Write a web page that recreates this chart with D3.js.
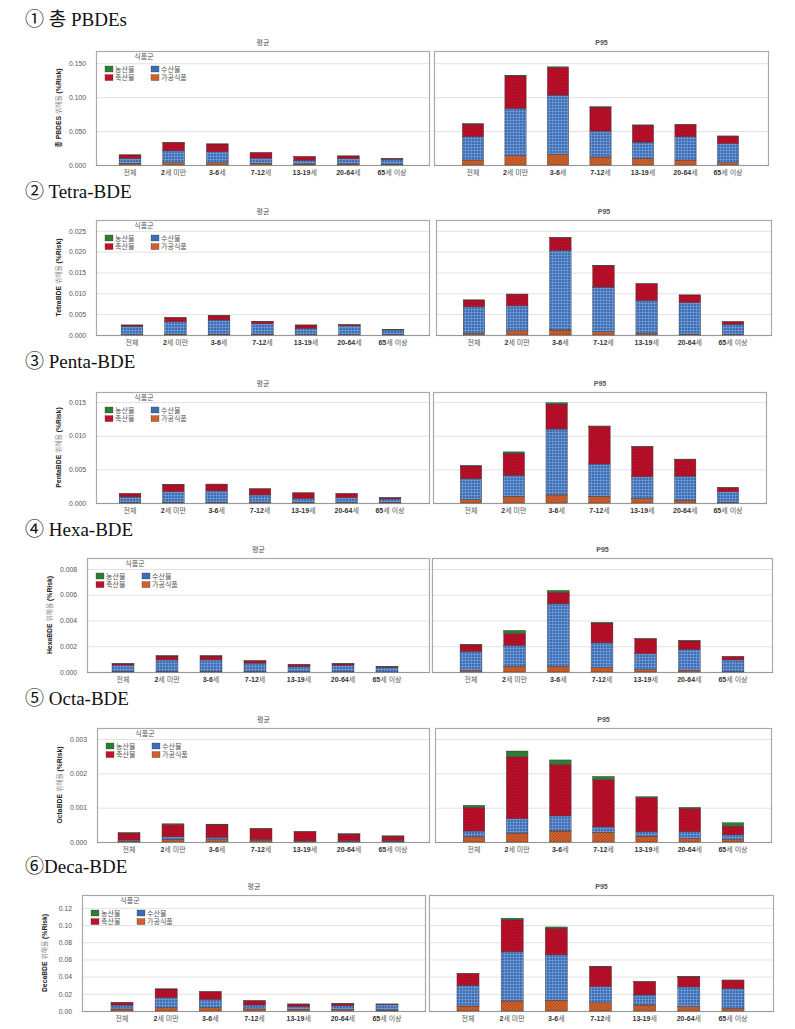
<!DOCTYPE html>
<html><head><meta charset="utf-8">
<script src="https://cdn.jsdelivr.net/npm/d3@7"></script>
<style>
body{margin:0;background:#fff}
svg{display:block}
.title{font-family:"Liberation Serif","DejaVu Serif","Noto Sans CJK KR",serif;font-size:19px;fill:#111}
.tick text{font-family:"Liberation Sans","DejaVu Sans","Noto Sans CJK KR",sans-serif;font-size:6.8px;fill:#555}
.small{font-family:"Liberation Sans","DejaVu Sans","Noto Sans CJK KR",sans-serif;font-size:7px;fill:#555}
.leg{font-family:"DejaVu Sans","Noto Sans CJK KR",sans-serif;font-size:7px;fill:#555}
</style>
</head><body><svg id="c" width="795" height="1029"></svg>
<script>
const ageGroups = ["전체","2세 미만","3-6세","7-12세","13-19세","20-64세","65세 이상"];
const foodGroups = ["농산물","수산물","축산물","가공식품"];
const stackOrder = ["가공식품","수산물","축산물","농산물"];
const panelNames = ["평균","P95"];

// matrices: rows follow foodGroups order, columns follow ageGroups order
const totalMean = [
  [0.0002,0.0003,0.0003,0.0002,0.0001,0.0001,0.0001],
  [0.0074,0.0176,0.0162,0.0078,0.0054,0.0078,0.0073],
  [0.0049,0.0123,0.0113,0.0078,0.0054,0.0040,0.0015],
  [0.0025,0.0034,0.0034,0.0025,0.0015,0.0015,0.0010]
];
const totalP95 = [
  [0.0005,0.0010,0.0010,0.0005,0.0003,0.0003,0.0002],
  [0.0343,0.0696,0.0873,0.0382,0.0240,0.0343,0.0284],
  [0.0186,0.0480,0.0407,0.0353,0.0250,0.0181,0.0108],
  [0.0074,0.0137,0.0157,0.0118,0.0098,0.0074,0.0034]
];
const tetraMean = [
  [0.00001,0.00001,0.00001,0.00001,0.00001,0.00001,0.00001],
  [0.0020,0.0030,0.0034,0.0025,0.0015,0.0021,0.0011],
  [0.0003,0.0010,0.0010,0.0006,0.0008,0.0003,0.0001],
  [0.0001,0.0002,0.0002,0.0002,0.0001,0.0001,0.0001]
];
const tetraP95 = [
  [0.00003,0.00003,0.00005,0.00003,0.00002,0.00002,0.00001],
  [0.0064,0.0060,0.0191,0.0107,0.0079,0.0076,0.0025],
  [0.0016,0.0028,0.0030,0.0051,0.0040,0.0018,0.0006],
  [0.0004,0.0010,0.0012,0.0008,0.0004,0.0002,0.0001]
];
const pentaMean = [
  [0.00001,0.00001,0.00001,0.00001,0.00001,0.00001,0.00001],
  [0.0008,0.0016,0.0017,0.0011,0.0006,0.0007,0.0005],
  [0.0005,0.0010,0.0010,0.0009,0.0008,0.0006,0.0002],
  [0.0001,0.0001,0.0001,0.0001,0.0001,0.0001,0.0001]
];
const pentaP95 = [
  [0.00005,0.0002,0.0002,0.00005,0.00003,0.00003,0.00002],
  [0.0031,0.0031,0.0098,0.0048,0.0032,0.0036,0.0016],
  [0.0019,0.0033,0.0037,0.0056,0.0045,0.0025,0.0006],
  [0.0005,0.0010,0.0012,0.0010,0.0007,0.0004,0.0001]
];
const hexaMean = [
  [0.00001,0.00002,0.00002,0.00001,0.00001,0.00001,0.00001],
  [0.00050,0.00090,0.00090,0.00065,0.00038,0.00050,0.00036],
  [0.00012,0.00030,0.00030,0.00018,0.00018,0.00010,0.00003],
  [0.00004,0.00004,0.00004,0.00004,0.00003,0.00003,0.00001]
];
const hexaP95 = [
  [0.00003,0.00026,0.00015,0.00004,0.00002,0.00002,0.00001],
  [0.00150,0.00163,0.00486,0.00194,0.00124,0.00163,0.00091],
  [0.00050,0.00090,0.00088,0.00153,0.00116,0.00065,0.00026],
  [0.00010,0.00044,0.00044,0.00033,0.00018,0.00013,0.00003]
];
const octaMean = [
  [0.00001,0.00002,0.00002,0.00001,0.00001,0.00001,0.00001],
  [0.00003,0.00007,0.00007,0.00003,0.00002,0.00002,0.00002],
  [0.00020,0.00036,0.00036,0.00031,0.00025,0.00019,0.00013],
  [0.00003,0.00008,0.00007,0.00005,0.00003,0.00002,0.00002]
];
const octaP95 = [
  [0.00006,0.00017,0.00013,0.00009,0.00003,0.00003,0.00010],
  [0.00017,0.00042,0.00044,0.00016,0.00013,0.00020,0.00014],
  [0.00069,0.00180,0.00150,0.00138,0.00099,0.00068,0.00025],
  [0.00015,0.00026,0.00032,0.00028,0.00017,0.00010,0.00007]
];
const decaMean = [
  [0.0001,0.0002,0.0002,0.0001,0.0001,0.0001,0.0001],
  [0.0046,0.0116,0.0097,0.0046,0.0030,0.0046,0.0062],
  [0.0031,0.0101,0.0089,0.0050,0.0031,0.0027,0.0008],
  [0.0023,0.0039,0.0039,0.0024,0.0020,0.0016,0.0011]
];
const decaP95 = [
  [0.0003,0.0020,0.0015,0.0003,0.0002,0.0002,0.0002],
  [0.0242,0.0573,0.0530,0.0187,0.0117,0.0230,0.0234],
  [0.0137,0.0370,0.0308,0.0230,0.0156,0.0117,0.0094],
  [0.0058,0.0117,0.0125,0.0097,0.0070,0.0050,0.0031]
];

const totalTicks = [0, 0.05, 0.10, 0.15];
const tetraTicks = [0, 0.005, 0.010, 0.015, 0.020, 0.025];
const pentaTicks = [0, 0.005, 0.010, 0.015];
const hexaTicks  = [0, 0.002, 0.004, 0.006, 0.008];
const octaTicks  = [0, 0.001, 0.002, 0.003];
const decaTicks  = [0, 0.02, 0.04, 0.06, 0.08, 0.10, 0.12];

const titles = ["①  총 PBDEs","② Tetra-BDE","③ Penta-BDE","④ Hexa-BDE","⑤ Octa-BDE","⑥Deca-BDE"];
const yTitles = [["총 PBDES"," 위해율 ","(%Risk)"],["TetraBDE"," 위해율 ","(%Risk)"],["PentaBDE"," 위해율 ","(%Risk)"],
                 ["HexaBDE"," 위해율 ","(%Risk)"],["OctaBDE"," 위해율 ","(%Risk)"],["DecaBDE"," 위해율 ","(%Risk)"]];
const yMaxes = [0.168, 0.0276, 0.0165, 0.00885, 0.00332, 0.135];

// layout only
const rows = [
  {title:titles[0], yT:yTitles[0], data:[totalMean,totalP95], ticks:totalTicks, fmt:".3f", yMax:yMaxes[0], tY:26,  top:51,  bottom:165, L:[96,430,130,392], R:[434,769,473,728]},
  {title:titles[1], yT:yTitles[1], data:[tetraMean,tetraP95], ticks:tetraTicks, fmt:".3f", yMax:yMaxes[1], tY:198, top:220, bottom:335, L:[96,430,132,393], R:[436,772,474,733]},
  {title:titles[2], yT:yTitles[2], data:[pentaMean,pentaP95], ticks:pentaTicks, fmt:".3f", yMax:yMaxes[2], tY:368, top:392, bottom:503, L:[96,430,130,390], R:[433,767,471,728]},
  {title:titles[3], yT:yTitles[3], data:[hexaMean,hexaP95],   ticks:hexaTicks,  fmt:".3f", yMax:yMaxes[3], tY:536, top:558, bottom:672, L:[87,430,123,387], R:[432,773,471,733]},
  {title:titles[4], yT:yTitles[4], data:[octaMean,octaP95],   ticks:octaTicks,  fmt:".3f", yMax:yMaxes[4], tY:705, top:728, bottom:842, L:[97,430,129,393], R:[435,772,474,733]},
  {title:titles[5], yT:yTitles[5], data:[decaMean,decaP95],   ticks:decaTicks,  fmt:".2f", yMax:yMaxes[5], tY:873, top:895, bottom:1011, L:[82,426,122,387], R:[429,774,468,733]}
];

const svg = d3.select("#c");
const defs = svg.append("defs");
function pat(id, base, line, kind){
  const p = defs.append("pattern").attr("id",id).attr("patternUnits","userSpaceOnUse").attr("width",3).attr("height",3);
  p.append("rect").attr("width",3).attr("height",3).attr("fill",base);
  if(kind==="grid"){
    p.append("path").attr("d","M0,0.5H3M0.5,0V3").attr("stroke",line).attr("stroke-width",0.6);
  } else if(kind==="cross"){
    p.append("path").attr("d","M0,0L3,3M3,0L0,3").attr("stroke",line).attr("stroke-width",0.5);
  } else if(kind==="diag"){
    p.append("path").attr("d","M0,3L3,0").attr("stroke",line).attr("stroke-width",0.6);
  }
}
pat("p-blue","#3c6db5","#7fa6dc","grid");
pat("p-red","#c3102c","#8c0a1c","cross");
pat("p-orange","#d0612c","#9a3d14","diag");
pat("p-green","#2e7d34","#2e7d34","solid");
const fillOf = {"농산물":"url(#p-green)","수산물":"url(#p-blue)","축산물":"url(#p-red)","가공식품":"url(#p-orange)"};
const legendFill = {"농산물":"#2e7d34","수산물":"#3c6db5","축산물":"#c3102c","가공식품":"#d0612c"};

function ageLabel(sel, a){
  const m = a.match(/^([0-9\-]+)(.*)$/);
  if(m){
    sel.append("tspan").attr("font-weight","bold").attr("fill","#333").text(m[1]);
    sel.append("tspan").text(m[2]);
  } else sel.text(a);
}

rows.forEach(r => {
  svg.append("text").attr("class","title").attr("x",25).attr("y",r.tY).text(r.title);
  const y = d3.scaleLinear().domain([0, r.yMax]).range([r.bottom, r.top]);

  const yt = svg.append("text").attr("class","small")
    .attr("transform",`translate(${r.L[0]-35},${(r.top+r.bottom)/2}) rotate(-90)`)
    .attr("text-anchor","middle").style("font-size","6.8px");
  yt.append("tspan").attr("font-weight","bold").attr("fill","#222").text(r.yT[0]);
  yt.append("tspan").attr("fill","#888").text(r.yT[1]);
  yt.append("tspan").attr("font-weight","bold").attr("fill","#222").text(r.yT[2]);

  [r.L, r.R].forEach((P, pi) => {
    const [x0, x1, c0, c1] = P;
    const step = (c1 - c0) / (ageGroups.length - 1);
    const x = d3.scaleBand().domain(ageGroups).range([c0 - step/2, c1 + step/2]).paddingInner(0.5).paddingOuter(0.25);
    const g = svg.append("g");

    g.append("g").attr("transform",`translate(${x0},0)`)
      .call(d3.axisLeft(y).tickValues(r.ticks).tickSize(-(x1-x0)).tickFormat(""))
      .call(s => { s.select(".domain").remove(); s.selectAll("line").attr("stroke","#e2e2e2").attr("stroke-width",1); });

    if(pi===0){
      g.append("g").attr("transform",`translate(${x0-7},0)`)
        .call(d3.axisLeft(y).tickValues(r.ticks).tickSize(0).tickFormat(d3.format(r.fmt)))
        .call(s => { s.select(".domain").remove(); s.selectAll("text").attr("dx",0); });
    }

    g.append("rect").attr("x",x0+0.5).attr("y",r.top+0.5).attr("width",x1-x0-1).attr("height",r.bottom-r.top)
      .attr("fill","none").attr("stroke","#aaa").attr("stroke-width",1.2);
    g.append("line").attr("x1",x0).attr("x2",x1).attr("y1",r.bottom+0.5).attr("y2",r.bottom+0.5)
      .attr("stroke","#999").attr("stroke-width",1.2);

    const M = r.data[pi];
    const table = ageGroups.map((a,i) => { const o = {age:a}; foodGroups.forEach((f,k) => o[f] = M[k][i]); return o; });
    const series = d3.stack().keys(stackOrder)(table);
    g.append("g").selectAll("g").data(series).join("g")
      .attr("fill", d => fillOf[d.key])
      .selectAll("rect").data(d => d).join("rect")
      .attr("x", d => x(d.data.age))
      .attr("width", x.bandwidth())
      .attr("y", d => y(d[1]))
      .attr("height", d => Math.max(0, y(d[0]) - y(d[1])))
      .attr("stroke","#333").attr("stroke-width",0.4);

    ageGroups.forEach(a => {
      const t = g.append("text").attr("class","small").attr("x", x(a) + x.bandwidth()/2).attr("y", r.bottom + 10)
        .attr("text-anchor","middle");
      ageLabel(t, a);
    });

    g.append("text").attr("class","small").attr("x",(x0+x1)/2).attr("y",r.top-6).attr("text-anchor","middle")
      .attr("font-weight", pi===1 ? "bold" : "normal").attr("fill", pi===1 ? "#222" : "#666")
      .text(panelNames[pi]);

    if(pi===0){
      const lg = svg.append("g").attr("transform",`translate(${x0},${r.top})`);
      lg.append("text").attr("class","leg").attr("x",48).attr("y",8).attr("text-anchor","middle").text("식품군");
      foodGroups.forEach((f,k) => {
        const cx = 9 + (k % 2) * 46;
        const cy = 15 + Math.floor(k / 2) * 8.6;
        lg.append("rect").attr("x",cx).attr("y",cy).attr("width",8).attr("height",6)
          .attr("fill",legendFill[f]).attr("stroke","#333").attr("stroke-width",0.3);
        lg.append("text").attr("class","leg").attr("text-anchor","start")
          .attr("x",cx+10).attr("y",cy+5.8).text(f);
      });
    }
  });
});
</script>
</body></html>
